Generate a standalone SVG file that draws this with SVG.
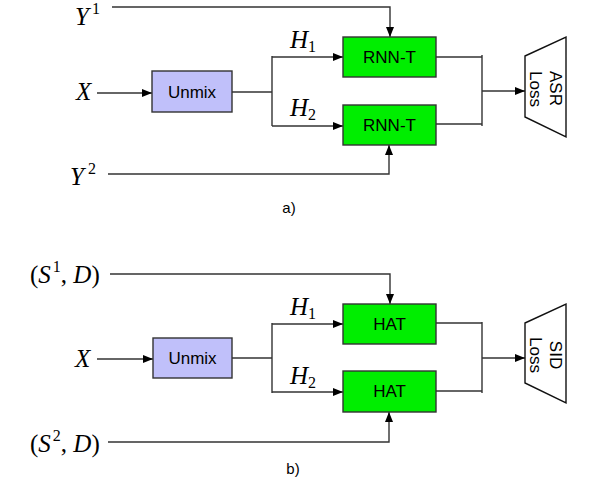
<svg xmlns="http://www.w3.org/2000/svg" width="602" height="488" viewBox="0 0 602 488">
<defs>
<marker id="ah" viewBox="0 0 10 8" refX="10" refY="4" markerWidth="10" markerHeight="8" markerUnits="userSpaceOnUse" orient="auto">
<path d="M0,0 L10,4 L0,8 Z" fill="#000"/>
</marker>
</defs>
<style>
.m{font-family:"Liberation Serif","Times New Roman",serif;font-size:25px;font-style:italic;fill:#000}
.u{font-style:normal;font-size:16px}
.s{font-family:"Liberation Sans",Arial,sans-serif;fill:#000}
.unmix{fill:#c0c0fa;stroke:#333;stroke-width:1.4}
.g{fill:#00ee00;stroke:#333;stroke-width:1.4}
.loss{fill:#fff;stroke:#111;stroke-width:1.4}
.c{fill:none;stroke:#333;stroke-width:1.4}
.a{marker-end:url(#ah)}
</style>
<rect width="602" height="488" fill="#fff"/>
<g id="connectors">
<polyline class="c a" points="112,7 390,7 390,37"/>
<line class="c a" x1="97" y1="93" x2="152" y2="93"/>
<line class="c" x1="232" y1="92" x2="272" y2="92"/>
<line class="c" x1="272" y1="56" x2="272" y2="126"/>
<line class="c a" x1="272" y1="57" x2="343" y2="57"/>
<line class="c a" x1="272" y1="126" x2="343" y2="126"/>
<polyline class="c a" points="108,174 389,174 389,145"/>
<line class="c" x1="436" y1="57" x2="482" y2="57"/>
<line class="c" x1="436" y1="124" x2="482" y2="124"/>
<line class="c" x1="482" y1="55" x2="482" y2="126"/>
<line class="c a" x1="482" y1="91" x2="525" y2="91"/>

<polyline class="c a" points="110,274 390,274 390,304"/>
<line class="c a" x1="97" y1="359" x2="153" y2="359"/>
<line class="c" x1="232" y1="358" x2="272" y2="358"/>
<line class="c" x1="272" y1="323" x2="272" y2="393"/>
<line class="c a" x1="272" y1="324" x2="343" y2="324"/>
<line class="c a" x1="272" y1="392" x2="343" y2="392"/>
<polyline class="c a" points="108,442 389,442 389,412"/>
<line class="c" x1="436" y1="323" x2="482" y2="323"/>
<line class="c" x1="436" y1="391" x2="482" y2="391"/>
<line class="c" x1="482" y1="322" x2="482" y2="393"/>
<line class="c a" x1="482" y1="358" x2="525" y2="358"/>
</g>
<g id="labels-a">
<text class="m" x="75" y="25">Y<tspan class="u" dx="3" dy="-11">1</tspan></text>
<text class="m" x="76" y="100">X</text>
<text class="m" x="70" y="185">Y<tspan class="u" dx="4" dy="-11">2</tspan></text>
<text class="m" x="290" y="48">H<tspan class="u" dy="4">1</tspan></text>
<text class="m" x="290" y="116">H<tspan class="u" dy="4">2</tspan></text>
<text class="s" x="289" y="213" font-size="15" text-anchor="middle">a)</text>
</g>
<g id="unmix-a"><rect class="unmix" x="152" y="71" width="80" height="41"/><text class="s" x="192" y="98" font-size="17" text-anchor="middle">Unmix</text></g>
<g id="rnnt-1"><rect class="g" x="343" y="37" width="93" height="40"/><text class="s" x="389.5" y="63" font-size="17" text-anchor="middle">RNN-T</text></g>
<g id="rnnt-2"><rect class="g" x="343" y="105" width="93" height="40"/><text class="s" x="389.5" y="131" font-size="17" text-anchor="middle">RNN-T</text></g>
<g id="asr-loss"><polygon class="loss" points="525,56 566,37 566,137 525,117"/>
<text class="s" font-size="17" text-anchor="middle" transform="translate(550,88.5) rotate(90)">ASR</text>
<text class="s" font-size="17" text-anchor="middle" transform="translate(530,89) rotate(90)">Loss</text></g>

<g id="labels-b">
<text class="m" x="30" y="283"><tspan font-style="normal">(</tspan>S<tspan class="u" dx="2" dy="-11">1</tspan><tspan font-style="normal" dy="11">, </tspan>D<tspan font-style="normal">)</tspan></text>
<text class="m" x="75" y="367">X</text>
<text class="m" x="30" y="452"><tspan font-style="normal">(</tspan>S<tspan class="u" dx="2" dy="-11">2</tspan><tspan font-style="normal" dy="11">, </tspan>D<tspan font-style="normal">)</tspan></text>
<text class="m" x="290" y="315">H<tspan class="u" dy="4">1</tspan></text>
<text class="m" x="290" y="384">H<tspan class="u" dy="4">2</tspan></text>
<text class="s" x="293" y="474" font-size="15" text-anchor="middle">b)</text>
</g>
<g id="unmix-b"><rect class="unmix" x="153" y="338" width="79" height="40"/><text class="s" x="192.5" y="364" font-size="17" text-anchor="middle">Unmix</text></g>
<g id="hat-1"><rect class="g" x="343" y="304" width="93" height="40"/><text class="s" x="389.5" y="330" font-size="17" text-anchor="middle">HAT</text></g>
<g id="hat-2"><rect class="g" x="343" y="371" width="93" height="41"/><text class="s" x="389.5" y="397" font-size="17" text-anchor="middle">HAT</text></g>
<g id="sid-loss"><polygon class="loss" points="525,323 566,304 566,403 525,383"/>
<text class="s" font-size="17" text-anchor="middle" transform="translate(550,355) rotate(90)">SID</text>
<text class="s" font-size="17" text-anchor="middle" transform="translate(530,355) rotate(90)">Loss</text></g>
</svg>
